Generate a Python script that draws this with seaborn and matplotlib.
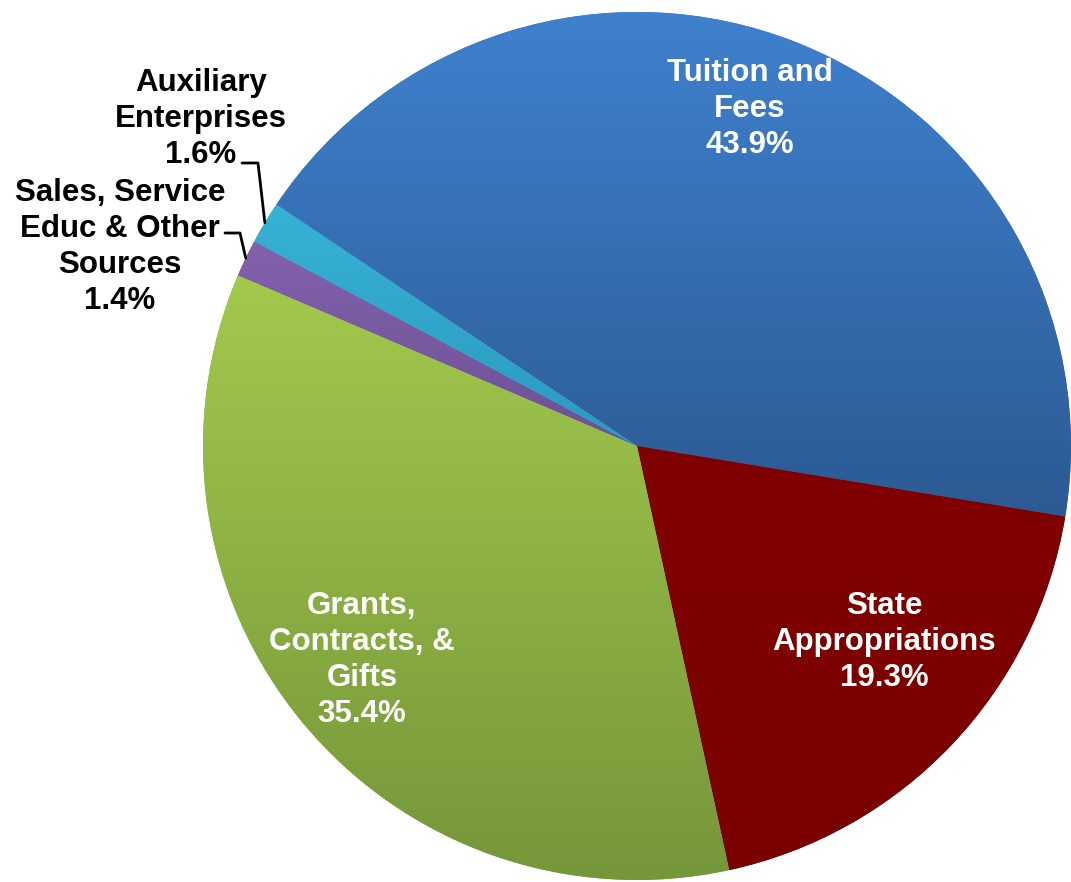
import numpy as np
import matplotlib
matplotlib.use("Agg")
import matplotlib.pyplot as plt
import seaborn as sns
from matplotlib.colors import LinearSegmentedColormap

# revenue sources (pie, clockwise from Tuition)
sources = ["Tuition and\nFees", "State\nAppropriations", "Grants,\nContracts, &\nGifts",
           "Sales, Service\nEduc & Other\nSources", "Auxiliary\nEnterprises"]
shares = [43.9, 19.3, 35.4, 1.4, 1.6]
top_colors = ["#3F81CE", "#800000", "#A2C94D", "#8262AC", "#37B2D4"]
bottom_colors = ["#2C5A93", "#7A0000", "#76963A", "#6C5194", "#2A9AC0"]

sns.set_theme(style="white")
plt.rcParams["font.family"] = ["Liberation Sans", "DejaVu Sans"]

W, H = 1071, 882
cx, cy, R = 637, 446, 434


def to_data(px, py):
    return (px - cx) / R, (cy - py) / R


fig = plt.figure(figsize=(W / 100, H / 100), dpi=100)
ax = fig.add_axes([0, 0, 1, 1])
wedges, _ = ax.pie(shares, startangle=146.2, counterclock=False, radius=1,
                   colors=top_colors, wedgeprops=dict(linewidth=0))

# excel style vertical gradient inside each slice
grad = np.linspace(0, 1, 256).reshape(-1, 1)
for w, c0, c1 in zip(wedges, top_colors, bottom_colors):
    ext = w.get_path().get_extents()
    cmap = LinearSegmentedColormap.from_list("g", [c0, c1])
    w.set_facecolor(cmap(0.5))
    ax.imshow(grad, extent=[ext.x0, ext.x1, ext.y0, ext.y1], origin="upper",
              cmap=cmap, aspect="auto", interpolation="bilinear",
              clip_path=w, zorder=2)

x0, y1 = to_data(0, 0)
x1, y0 = to_data(W, H)
ax.set_xlim(x0, x1)
ax.set_ylim(y0, y1)
ax.set_aspect("auto")
ax.axis("off")

labels = [f"{s}\n{v:.1f}%" for s, v in zip(sources, shares)]
label_px = [(750, 109), (884, 642), (362, 660), (120, 247), (201, 119)]
label_colors = ["white", "white", "white", "black", "black"]
for lab, (px, py), col in zip(labels, label_px, label_colors):
    x, y = to_data(px, py)
    ax.text(x, y, lab, ha="center", va="center", color=col, fontsize=22.5,
            fontweight="bold", linespacing=1.25, zorder=5)

# leader lines for the two small slices
leaders = {3: [(225, 233), (240, 233)], 4: [(242, 163), (258, 163)]}
for i, pts in leaders.items():
    w = wedges[i]
    mid = np.deg2rad((w.theta1 + w.theta2) / 2)
    xs = [to_data(*p)[0] for p in pts] + [np.cos(mid)]
    ys = [to_data(*p)[1] for p in pts] + [np.sin(mid)]
    ax.plot(xs, ys, color="black", lw=2, zorder=5)

fig.savefig("out.png", dpi=100)
